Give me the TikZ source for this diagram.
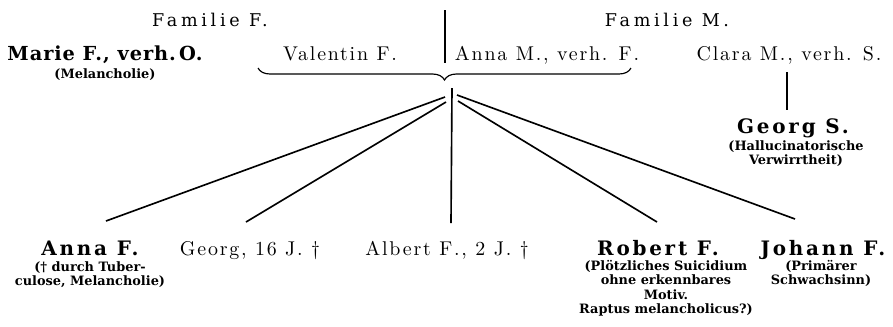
\documentclass[tikz,border=0pt]{standalone}
\usepackage{fontspec}
\newfontfamily\famfont[LetterSpace=21]{DejaVu Serif}
\newfontfamily\descfont{DejaVu Serif}
\newfontfamily\namefont[LetterSpace=9]{lmroman10-regular.otf}
\newfontfamily\heavyfont[LetterSpace=14]{DejaVu Serif}
\newfontfamily\markfont[LetterSpace=5]{DejaVu Serif}
\usetikzlibrary{decorations.pathreplacing,positioning}
\tikzset{
  family/.style  = {font=\famfont\fontsize{15}{17}\selectfont, anchor=base, inner sep=0pt},
  person/.style  = {font=\namefont\fontsize{17}{20}\selectfont, anchor=base, inner sep=0pt},
  patient/.style = {font=\heavyfont\bfseries\fontsize{17}{20}\selectfont, anchor=base, inner sep=0pt},
  diag/.style    = {font=\descfont\bfseries\fontsize{11}{12.3}\selectfont, align=center,
                    anchor=north, inner sep=0pt},
  wire/.style    = {line width=1.4pt},
  kinbrace/.style = {decorate, decoration={brace, amplitude=0.36cm, mirror}, line width=1pt},
}

\begin{document}
\begin{tikzpicture}[x=0.03cm,y=-0.03cm]
  \useasboundingbox (0,0) rectangle (893,326);
  % the two families
  \node[family] (famF) at (210,26) {Familie F.};
  \node[family] (famM) at (667,26) {Familie M.};
  \coordinate (divTop) at (445,10);
  \coordinate (divBot) at (445,63);
  \draw[wire] (divTop) -- (divBot);
  \node[patient, font=\markfont\bfseries\fontsize{16.5}{18}\selectfont] (marie) at (105,60) {Marie F., verh.\,O.};
  \node[diag] (marieD) at (105,68) {(Melancholie)};
  \node[person] (valentin) at (340,60) {Valentin F.};
  \node[person] (annaM) at (547,60) {Anna M., verh. F.};
  \node[person] (clara) at (789,60) {Clara M., verh. S.};
  % marriage
  \coordinate (braceL) at (258,68);
  \coordinate (braceR) at (631,68);
  \draw[kinbrace] (braceL) -- (braceR);
  % children
  \node[patient] (annaF) at (90,255) {Anna F.};
  \node[diag] (annaFD) at (90,261) {(\textdagger\ durch Tuber-\\culose, Melancholie)};
  \node[person] (georg) at (250,255) {Georg, 16 J. \textdagger};
  \node[person] (albert) at (447,255) {Albert F., 2 J. \textdagger};
  \node[patient] (robert) at (658,255) {Robert F.};
  \node[diag] (robertD) at (666,260) {(Plötzliches Suicidium\\ohne erkennbares\\Motiv.\\Raptus melancholicus?)};
  \node[patient] (johann) at (823,255) {Johann F.};
  \node[diag] (johannD) at (821,260) {(Primärer\\Schwachsinn)};
  \node[patient] (georgS) at (793,133) {Georg S.};
  \node[diag] (georgSD) at (796,140) {(Hallucinatorische\\Verwirrtheit)};
  % lines of descent
  \coordinate (hubA) at (445,97);
  \coordinate (hubG) at (446,102);
  \coordinate (hubV) at (452,88);
  \coordinate (hubR) at (458,101);
  \coordinate (hubJ) at (457,95);
  \coordinate (annaTop) at (106,221);
  \coordinate (georgTop) at (246,222);
  \coordinate (albertTop) at (451,223);
  \coordinate (robertTop) at (657,222);
  \coordinate (johannTop) at (795,219);
  \draw[wire] (hubA) -- (annaTop);
  \draw[wire] (hubG) -- (georgTop);
  \draw[wire] (hubV) -- (albertTop);
  \draw[wire] (hubR) -- (robertTop);
  \draw[wire] (hubJ) -- (johannTop);
  \coordinate (claraBot) at (787,72);
  \coordinate (georgSTop) at (787,110);
  \draw[wire] (claraBot) -- (georgSTop);
\end{tikzpicture}
\end{document}
